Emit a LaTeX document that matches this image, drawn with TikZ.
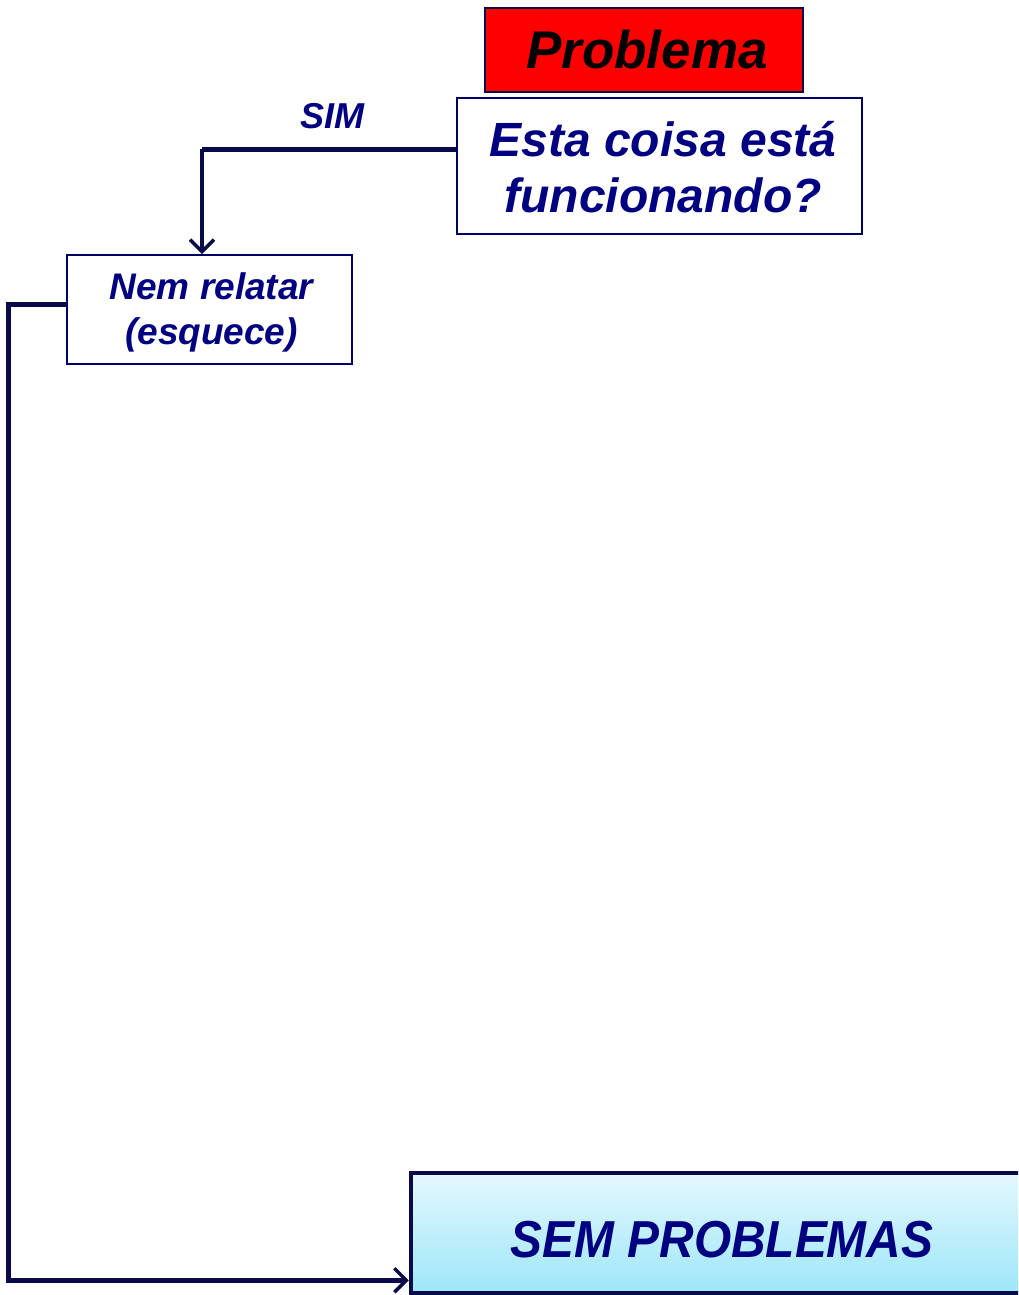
\documentclass[tikz,border=0pt]{standalone}
\usepackage{fontspec}
\setmainfont{Liberation Sans}
\usetikzlibrary{arrows.meta}
\definecolor{navytext}{RGB}{0,0,128}
\definecolor{navyline}{RGB}{10,10,75}
\definecolor{boxedge}{RGB}{0,0,96}
\definecolor{alarmred}{RGB}{255,0,0}
\definecolor{skytop}{RGB}{228,248,253}
\definecolor{skybottom}{RGB}{158,230,250}
\tikzset{
  every node/.style={font=\bfseries\itshape, align=center, inner sep=0pt},
  plainbox/.style={draw=boxedge, line width=1.8pt, fill=white, text=navytext},
  flow/.style={draw=navyline, line width=5pt, line join=miter},
  tip/.style={-{Straight Barb[length=12pt, width=24pt, line width=3.5pt]}},
}
\begin{document}
\begin{tikzpicture}[x=1pt, y=-1pt]
  \useasboundingbox (0,0) rectangle (1018,1295);
  \clip (0,0) rectangle (1018,1295);

  % title and question
  \node[draw=navyline, line width=1.4pt, fill=alarmred, text=black,
        minimum width=318pt, minimum height=84pt,
        font=\fontsize{53}{60}\bfseries\itshape\selectfont]
        (prob) at (644,50) {};
  \node[text=black, font=\fontsize{53}{60}\bfseries\itshape\selectfont]
        (probtxt) at (647,50) {Problema};
  \node[plainbox, minimum width=405pt, minimum height=136pt] (quest) at (659.5,166) {};
  \node[text=navytext, font=\fontsize{48}{56}\bfseries\itshape\selectfont]
        (questtxt) at (663,167) {Esta coisa está\\funcionando?};

  % answer box
  \node[plainbox, minimum width=285pt, minimum height=109pt] (nem) at (209.5,309.5) {};
  \node[text=navytext, font=\fontsize{37}{45}\bfseries\itshape\selectfont]
        (nemtxt) at (211.5,312) {Nem relatar\\(esquece)};

  % outcome box
  \node[draw=navyline, line width=4.5pt, top color=skytop, bottom color=skybottom,
        minimum width=619pt, minimum height=120pt]
        (sem) at (720.5,1233) {};
  \node[text=navytext, font=\fontsize{52}{60}\bfseries\itshape\selectfont]
        (semtxt) at (722,1240) {\scalebox{0.92}[1]{SEM PROBLEMAS}};

  % connectors
  \draw[flow] ([yshift=17pt]quest.west) -- (202,149) coordinate (bend);
  \draw[flow, line width=3.5pt, tip] (bend) -- ([xshift=-7.5pt]nem.north);
  \node[text=navytext, font=\fontsize{36}{42}\bfseries\itshape\selectfont]
        (sim) at (332,116) {SIM};

  \draw[flow, tip] ([yshift=5pt]nem.west) -- (8,304.5) |- ([yshift=15pt]sem.south west);
\end{tikzpicture}
\end{document}
